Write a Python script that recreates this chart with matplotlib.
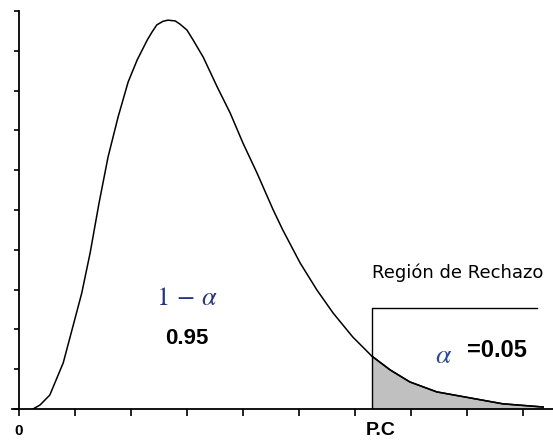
import matplotlib.pyplot as plt
import numpy as np

# density curve (x and y in tick units)
curve_x = [0.25, 0.375, 0.55, 0.79, 0.96, 1.12, 1.27, 1.43, 1.59, 1.77, 1.95, 2.11,
           2.29, 2.375, 2.46, 2.57, 2.66, 2.79, 2.875, 3.0, 3.11, 3.29, 3.54, 3.77,
           4.0, 4.25, 4.54, 4.71, 5.02, 5.32, 5.61, 5.96, 6.30, 6.63, 6.98, 7.46,
           8.05, 8.64, 9.36]
curve_y = [0.0, 0.10, 0.35, 1.16, 2.06, 2.91, 3.92, 5.18, 6.33, 7.34, 8.22, 8.77,
           9.27, 9.47, 9.65, 9.74, 9.77, 9.75, 9.67, 9.52, 9.27, 8.84, 8.09, 7.44,
           6.68, 5.93, 5.0, 4.50, 3.67, 2.99, 2.41, 1.81, 1.33, 0.98, 0.68, 0.43,
           0.28, 0.13, 0.05]

pc = 6.30          # punto critico
box_top = 2.54
box_right = 9.25
x_ticks = [0, 1, 2, 3, 4, 5, 6, 7, 8, 9]
x_labels = ["0", "", "", "", "", "", "", "", "", ""]
y_ticks = [0, 1, 2, 3, 4, 5, 6, 7, 8, 9, 10]

plt.rcParams["mathtext.fontset"] = "stix"

fig = plt.figure(figsize=(5.53, 4.43), dpi=100)
ax = fig.add_axes([12 / 553, 34 / 443, 1 - 12 / 553, 398 / 443])

cx = np.array(curve_x)
cy = np.array(curve_y)
ax.plot(cx, cy, color="black", lw=1.1)
tail = cx >= pc
ax.fill_between(cx[tail], cy[tail], color="#c0c0c0", lw=0)
ax.plot(cx[tail], cy[tail], color="black", lw=1.1)

# caja de la region de rechazo
ax.plot([pc, pc, box_right], [0, box_top, box_top], color="black", lw=1.0)

ax.set_xlim(-0.125, 9.536)
ax.set_ylim(0, 10)
ax.spines["left"].set_position(("data", 0))
ax.spines["top"].set_visible(False)
ax.spines["right"].set_visible(False)
ax.spines["left"].set_linewidth(1.3)
ax.spines["bottom"].set_linewidth(1.3)

ax.set_xticks(x_ticks)
ax.set_xticklabels(x_labels, fontweight="bold", fontsize=11, family="Liberation Sans")
ax.set_yticks(y_ticks)
ax.set_yticklabels([])
ax.tick_params(axis="x", direction="out", length=5, width=1.2, pad=6)
ax.tick_params(axis="y", direction="out", length=3.5, width=1.2)

ax.text(6.45, -0.53, "P.C", ha="center", va="center", fontsize=14,
        fontweight="bold", family="Liberation Sans", clip_on=False)

ax.text(6.30, 3.42, "Región de Rechazo", ha="left", va="center", fontsize=13,
        family="DejaVu Sans")
ax.text(2.99, 2.79, r"$1\,-\,\alpha$", ha="center", va="center", fontsize=19,
        color="#25357a")
ax.text(3.0, 1.78, "0.95", ha="center", va="center", fontsize=16,
        fontweight="bold", family="Liberation Sans")
ax.text(7.59, 1.36, r"$\alpha$", ha="center", va="center", fontsize=20,
        color="#2a4a9a")
ax.text(8.53, 1.48, "=0.05", ha="center", va="center", fontsize=17,
        fontweight="bold", family="Liberation Sans")

fig.savefig("out.png", dpi=100)
